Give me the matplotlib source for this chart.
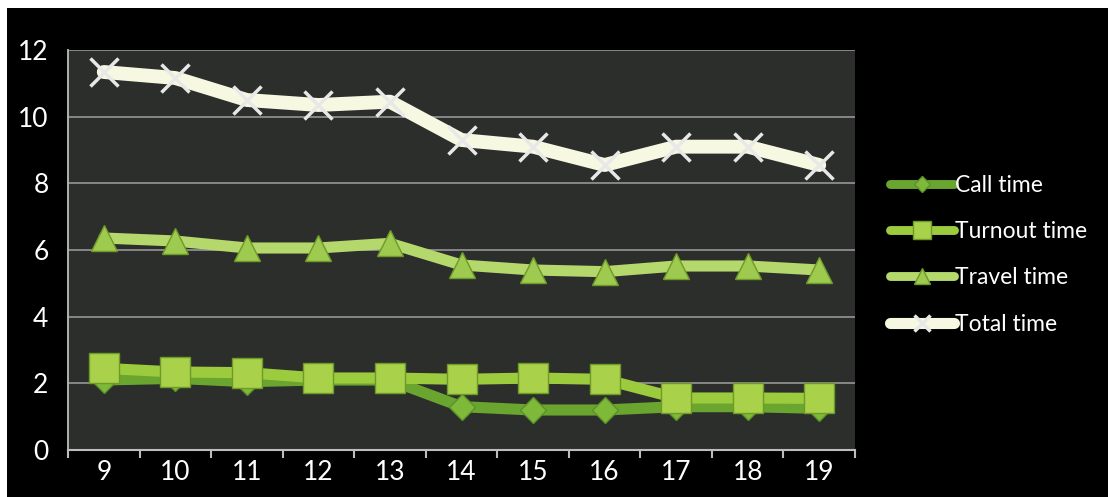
import matplotlib
matplotlib.use("Agg")
import matplotlib.pyplot as plt
from matplotlib.patches import Rectangle

categories = ["9", "10", "11", "12", "13", "14", "15", "16", "17", "18", "19"]
call_time = [2.1, 2.15, 2.05, 2.1, 2.1, 1.3, 1.2, 1.2, 1.3, 1.3, 1.25]
turnout_time = [2.45, 2.34, 2.32, 2.16, 2.16, 2.12, 2.16, 2.12, 1.56, 1.56, 1.55]
travel_time = [6.36, 6.27, 6.06, 6.06, 6.2, 5.55, 5.4, 5.35, 5.52, 5.52, 5.4]
total_time = [11.34, 11.16, 10.5, 10.35, 10.45, 9.3, 9.1, 8.55, 9.1, 9.1, 8.55]
yticks = [0, 2, 4, 6, 8, 10, 12]

FONT = ["Lato", "DejaVu Sans"]
W, H = 1108, 497
fig = plt.figure(figsize=(W / 100, H / 100), dpi=100)
fig.patch.set_facecolor("white")
fig.patches.append(Rectangle((7 / W, 0), 1, 1 - 8 / H, transform=fig.transFigure,
                             facecolor="black", edgecolor="none", zorder=-10))

ax = fig.add_axes([68 / W, 47 / H, (855 - 68) / W, (450 - 50) / H])
ax.set_facecolor("#2c2e2b")
x = list(range(len(categories)))

ax.plot(x, call_time, color="#6aa530", lw=8, marker="D", ms=13,
        mfc="#7fb93a", mec="#5a9228", mew=1, label="Call time", zorder=3,
        solid_capstyle="round")
ax.plot(x, turnout_time, color="#9ccb3e", lw=8, marker="s", ms=21,
        mfc="#a9d24a", mec="#6d9a28", mew=1, label="Turnout time", zorder=4,
        solid_capstyle="round")
ax.plot(x, travel_time, color="#b4d86c", lw=8, marker="^", ms=19,
        mfc="#9fca50", mec="#6d9a28", mew=1, label="Travel time", zorder=3,
        solid_capstyle="round")
ax.plot(x, total_time, color="#f6f8e2", lw=10, marker="x", ms=20,
        mec="#e8e8e8", mew=2.5, label="Total time", zorder=3,
        solid_capstyle="round")

ax.set_xlim(-0.5, len(categories) - 0.5)
ax.set_ylim(0, 12)
ax.set_yticks(yticks)
ax.set_xticks(x)
ax.set_xticklabels(categories)
ax.set_xticks([i - 0.5 for i in range(len(categories) + 1)], minor=True)
ax.tick_params(axis="x", which="major", length=0, pad=7, labelsize=19,
               colors="white")
ax.tick_params(axis="x", which="minor", length=6, width=1.5, color="#bdbdbd",
               direction="out")
ax.tick_params(axis="y", length=0, pad=14, labelsize=19, colors="white")
for lab in ax.get_xticklabels() + ax.get_yticklabels():
    lab.set_family(FONT)
ax.grid(axis="y", color="#8e8e8e", lw=1.3)
ax.set_axisbelow(True)
for s in ["top", "right"]:
    ax.spines[s].set_visible(False)
ax.spines["left"].set_color("#bdbdbd")
ax.spines["left"].set_linewidth(1.3)
ax.spines["bottom"].set_color("#bdbdbd")
ax.spines["bottom"].set_linewidth(1.5)

leg = ax.legend(loc="upper left", bbox_to_anchor=(890 / W, (497 - 175) / H),
                bbox_transform=fig.transFigure, frameon=False,
                handlelength=2.8, handletextpad=0.05, labelspacing=1.1,
                borderpad=0, borderaxespad=0,
                prop={"family": FONT, "size": 16.5})
for t in leg.get_texts():
    t.set_color("white")
for h in leg.legend_handles:
    h.set_markersize(h.get_markersize() * 0.6)
    h.set_linewidth(h.get_linewidth() * 0.8)

fig.savefig("out.png", dpi=100, facecolor=fig.get_facecolor())
